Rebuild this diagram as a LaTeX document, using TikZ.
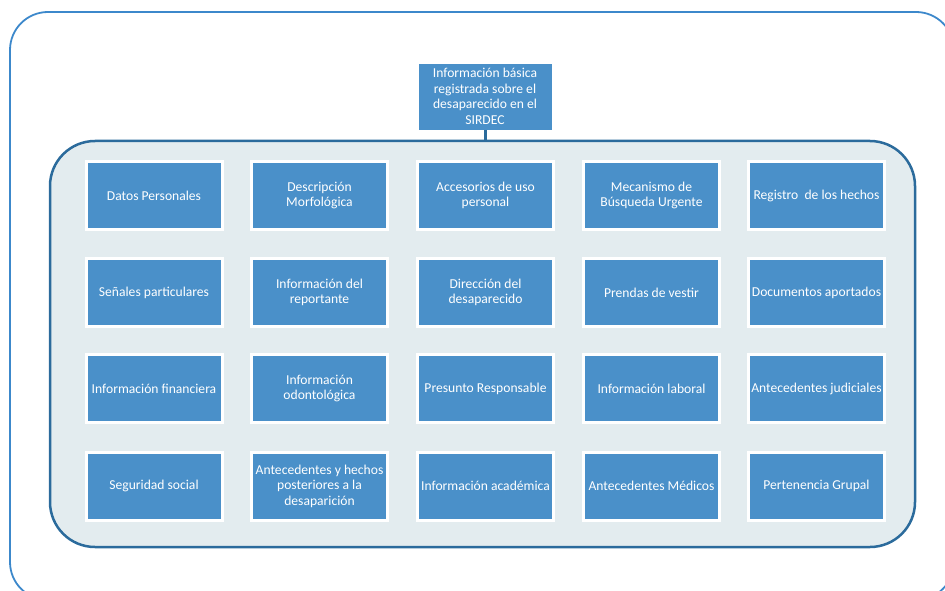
\documentclass[tikz,border=0pt]{standalone}
\usepackage{fontspec}
\setmainfont{Carlito}
\definecolor{cajaazul}{HTML}{4A90C9}
\definecolor{fondo}{HTML}{E3ECEF}
\definecolor{borde}{HTML}{2B6B9C}
\definecolor{marcoext}{HTML}{3C88CB}
\begin{document}
\begin{tikzpicture}[x=1pt, y=-1pt,
    caja/.style = {draw=white, line width=3pt, fill=cajaazul, text=white, align=center,
        minimum width=136pt, minimum height=68pt, inner sep=1pt,
        font=\fontsize{13.6}{15.5}\selectfont},
    titulo/.style = {draw=white, line width=0.5pt, fill=cajaazul, text=white, align=center,
        minimum width=134pt, minimum height=67pt, inner sep=1pt,
        font=\fontsize{13.6}{15.5}\selectfont},
    cont/.style = {draw=borde, line width=2.5pt, fill=fondo, rounded corners=45pt,
        minimum width=865pt, minimum height=406pt}]
    \useasboundingbox (0,0) rectangle (945,591);
    % marco exterior
    \draw[marcoext, line width=1.8pt, rounded corners=38pt] (10,12) rectangle (954,600);

    \node[cont] (marco) at (482.5,344) {};
    \node[titulo] (t) at (485,96.5) {Información básica\\registrada sobre el\\desaparecido en el\\SIRDEC};
    \draw[borde, line width=3pt] (t.south) -- (t.south |- marco.north);

    % Disponer las cajas
    \node[caja] (dp) at (154,195.5) {Datos Personales};
    \node[caja] (dm) at (319.5,195.5) {Descripción\\Morfológica};
    \node[caja] (ac) at (485.5,195.5) {Accesorios de uso\\personal};
    \node[caja] (mb) at (651.5,195.5) {Mecanismo de\\Búsqueda Urgente};
    \node[caja] (rh) at (816.5,195.5) {Registro\ \ de los hechos};

    \node[caja] (sp) at (154,292.5) {Señales particulares};
    \node[caja] (ir) at (319.5,292.5) {Información del\\reportante};
    \node[caja] (dd) at (485.5,292.5) {Dirección del\\desaparecido};
    \node[caja] (pv) at (651.5,292.5) {Prendas de vestir};
    \node[caja] (da) at (816.5,292.5) {Documentos aportados};

    \node[caja] (if) at (154,388.5) {Información financiera};
    \node[caja] (io) at (319.5,388.5) {Información\\odontológica};
    \node[caja] (pr) at (485.5,388.5) {Presunto Responsable};
    \node[caja] (il) at (651.5,388.5) {Información laboral};
    \node[caja] (aj) at (816.5,388.5) {Antecedentes judiciales};

    \node[caja] (ss) at (154,486) {Seguridad social};
    \node[caja] (ah) at (319.5,486) {Antecedentes y hechos\\posteriores a la\\desaparición};
    \node[caja] (ia) at (485.5,486) {Información académica};
    \node[caja] (am) at (651.5,486) {Antecedentes Médicos};
    \node[caja] (pg) at (816.5,486) {Pertenencia Grupal};
\end{tikzpicture}
\end{document}
